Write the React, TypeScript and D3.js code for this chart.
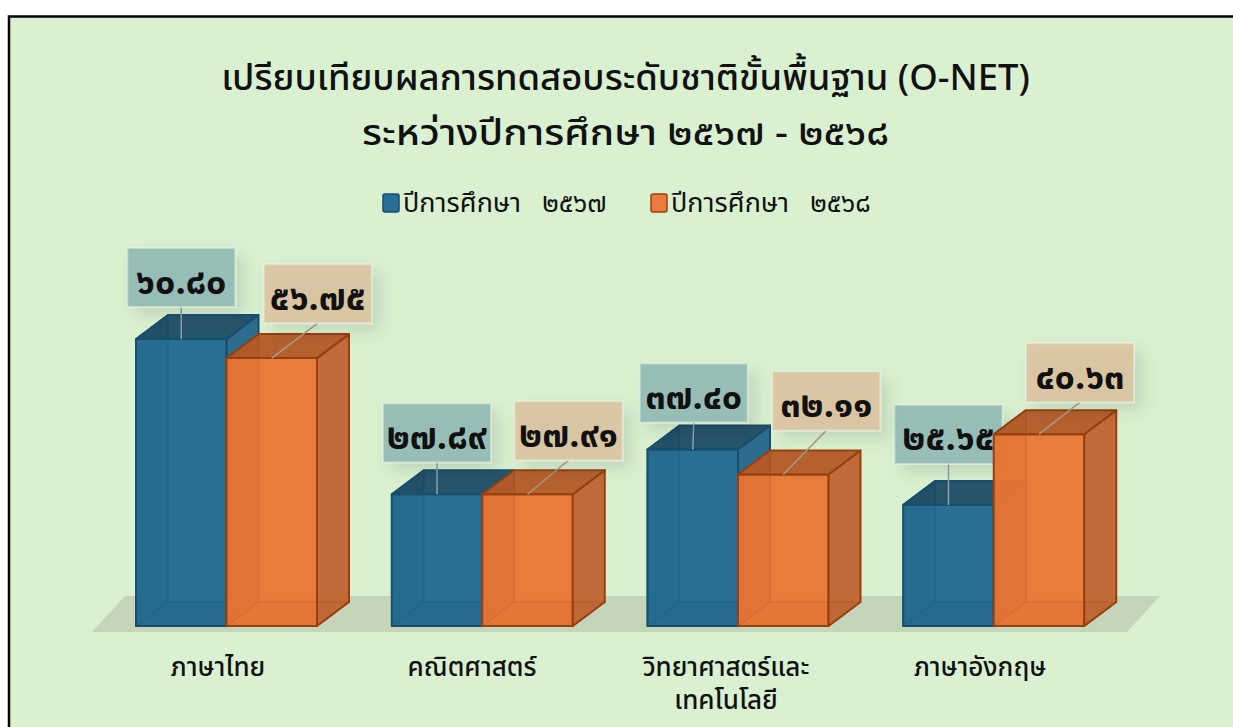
import React from "react";
import * as d3 from "d3";

const W = 1233, H = 727;
const categories = [["ภาษาไทย"], ["คณิตศาสตร์"], ["วิทยาศาสตร์และ", "เทคโนโลยี"], ["ภาษาอังกฤษ"]];
const series2567 = [60.8, 27.89, 37.4, 25.65];
const series2568 = [56.75, 27.91, 32.11, 40.63];
const seriesNames = ["ปีการศึกษา   ๒๕๖๗", "ปีการศึกษา   ๒๕๖๘"];
const titleLines = ["เปรียบเทียบผลการทดสอบระดับชาติขั้นพื้นฐาน (O-NET)", "ระหว่างปีการศึกษา ๒๕๖๗ - ๒๕๖๘"];

// label placement relative to each bar's top-centre
const blueLabelOffsets = [[0, 32], [0, 32], [1, 27], [0, 41]];
const orangeLabelOffsets = [[46, 35], [41, 34], [43, 44], [41, 32]];

const FONT = "'Noto Sans Thai','Noto Sans','Noto Sans CJK SC','DejaVu Sans',sans-serif";
const thaiDigits = "๐๑๒๓๔๕๖๗๘๙";
const toThai = (v: number) => v.toFixed(2).replace(/\d/g, (d) => thaiDigits[+d]);

const x = d3.scaleBand<number>().domain([0, 1, 2, 3]).range([136, 1159]).paddingInner(0).paddingOuter(0);
const catX = d3.scalePoint<number>().domain([0, 1, 2, 3]).range([218, 980]);
const y = d3.scaleLinear().domain([0, 60.8]).range([626, 339]);
const BW = 90.5, DX = 32, DY = 24;
const pts = (a: number[][]) => a.map((p) => p.join(",")).join(" ");

function Bar({ x0, v, c }: { x0: number; v: number; c: any }) {
  const x1 = x0 + BW, t = y(v), b = y(0);
  const common = { stroke: c.stroke, strokeWidth: 2, strokeLinejoin: "round" as const };
  return (
    <g>
      <rect x={x0 + DX} y={t - DY} width={BW} height={b - t} fill={c.front} fillOpacity={0.75} />
      <polygon points={pts([[x0, b], [x0 + DX, b - DY], [x1 + DX, b - DY], [x1, b]])} fill={c.floor} fillOpacity={0.85} stroke={c.stroke} strokeWidth={1.5} strokeLinejoin="round" />
      <polygon points={pts([[x0, t], [x0 + DX, t - DY], [x0 + DX, b - DY], [x0, b]])} fill={c.side} fillOpacity={0.85} stroke={c.stroke} strokeWidth={1.5} strokeLinejoin="round" />
      <rect x={x0} y={t} width={BW} height={b - t} fill={c.front} fillOpacity={0.82} {...common} />
      <polygon points={pts([[x1, t], [x1 + DX, t - DY], [x1 + DX, b - DY], [x1, b]])} fill={c.right} fillOpacity={0.88} {...common} />
      <polygon points={pts([[x0, t], [x0 + DX, t - DY], [x1 + DX, t - DY], [x1, t]])} fill={c.top} fillOpacity={0.85} {...common} />
    </g>
  );
}

function Label({ bx, t, v, off, fill, line }: { bx: number; t: number; v: number; off: number[]; fill: string; line: string }) {
  const cx = bx + off[0], bottom = t - off[1];
  const lw = 108, lh = 59;
  return (
    <g>
      <line x1={bx} y1={t} x2={cx} y2={bottom} stroke={line} strokeWidth={1.5} />
      <rect x={cx - lw / 2} y={bottom - lh} width={lw} height={lh} fill={fill} fillOpacity={0.88} stroke="#eef6e6" strokeOpacity={0.45} strokeWidth={2} filter="url(#sh)" />
      <text x={cx} y={bottom - lh / 2 + 16} textAnchor="middle" fontFamily={FONT} fontWeight={700} fontSize={36} fill="#111">{toThai(v)}</text>
    </g>
  );
}

const BLUE = { stroke: "#174f6e", front: "#226a90", side: "#1c5f84", right: "#26688c", top: "#1f4a62", floor: "#1e5d80" };
const ORANGE = { stroke: "#97400f", front: "#e87636", side: "#d66c30", right: "#bb6534", top: "#ab5826", floor: "#d56d30" };

export default function App() {
  return (
    <svg width={W} height={H} viewBox={`0 0 ${W} ${H}`} style={{ position: "absolute", left: 0, top: 0 }}>
      <defs>
        <filter id="sh" x="-30%" y="-30%" width="170%" height="180%">
          <feDropShadow dx="8" dy="8" stdDeviation="8" floodColor="#000" floodOpacity="0.13" />
        </filter>
      </defs>
      <rect width={W} height={H} fill="#fff" />
      <rect x={9} y={16.5} width={W + 20} height={H} fill="#d9f1d1" stroke="#000" strokeWidth={2.5} />
      {titleLines.map((t, i) => (
        <text key={i} x={625.5} y={[90, 145][i]} textAnchor="middle" fontFamily={FONT} fontWeight={500} fontSize={36.4} fill="#111"
          {...(i === 1 ? { textLength: 527, lengthAdjust: "spacingAndGlyphs" } : {})}>{t}</text>
      ))}
      {seriesNames.map((s, i) => {
        const lx = [383, 651][i];
        return (
          <g key={i}>
            <rect x={lx} y={194} width={16} height={18} rx={2} fill={i ? "#ec7a3e" : "#276f97"} stroke={i ? "#97400f" : "#174f6e"} strokeWidth={1.5} />
            <text x={lx + 20} y={212} fontFamily={FONT} fontSize={27} fill="#111" style={{ whiteSpace: "pre" }}>{s}</text>
          </g>
        );
      })}
      <polygon points={pts([[92, 632], [125, 596], [1160, 596], [1127, 632]])} fill="#c5d5ba" />
      {series2567.map((v, i) => <Bar key={i} x0={x(i)!} v={v} c={BLUE} />)}
      {series2567.map((v, i) => <Label key={i} bx={x(i)! + BW / 2} t={y(v)} v={v} off={blueLabelOffsets[i]} fill="#8fb8b4" line="#8aa5a5" />)}
      {series2568.map((v, i) => <Bar key={i} x0={x(i)! + BW} v={v} c={ORANGE} />)}
      {series2568.map((v, i) => <Label key={i} bx={x(i)! + BW * 1.5} t={y(v)} v={v} off={orangeLabelOffsets[i]} fill="#dcc29f" line="#a99a86" />)}
      {categories.map((lines, i) => (
        <text key={i} textAnchor="middle" fontFamily={FONT} fontWeight={500} fontSize={26} fill="#111">
          {lines.map((l, j) => <tspan key={j} x={catX(i)!} y={676 + j * 33}>{l}</tspan>)}
        </text>
      ))}
    </svg>
  );
}
